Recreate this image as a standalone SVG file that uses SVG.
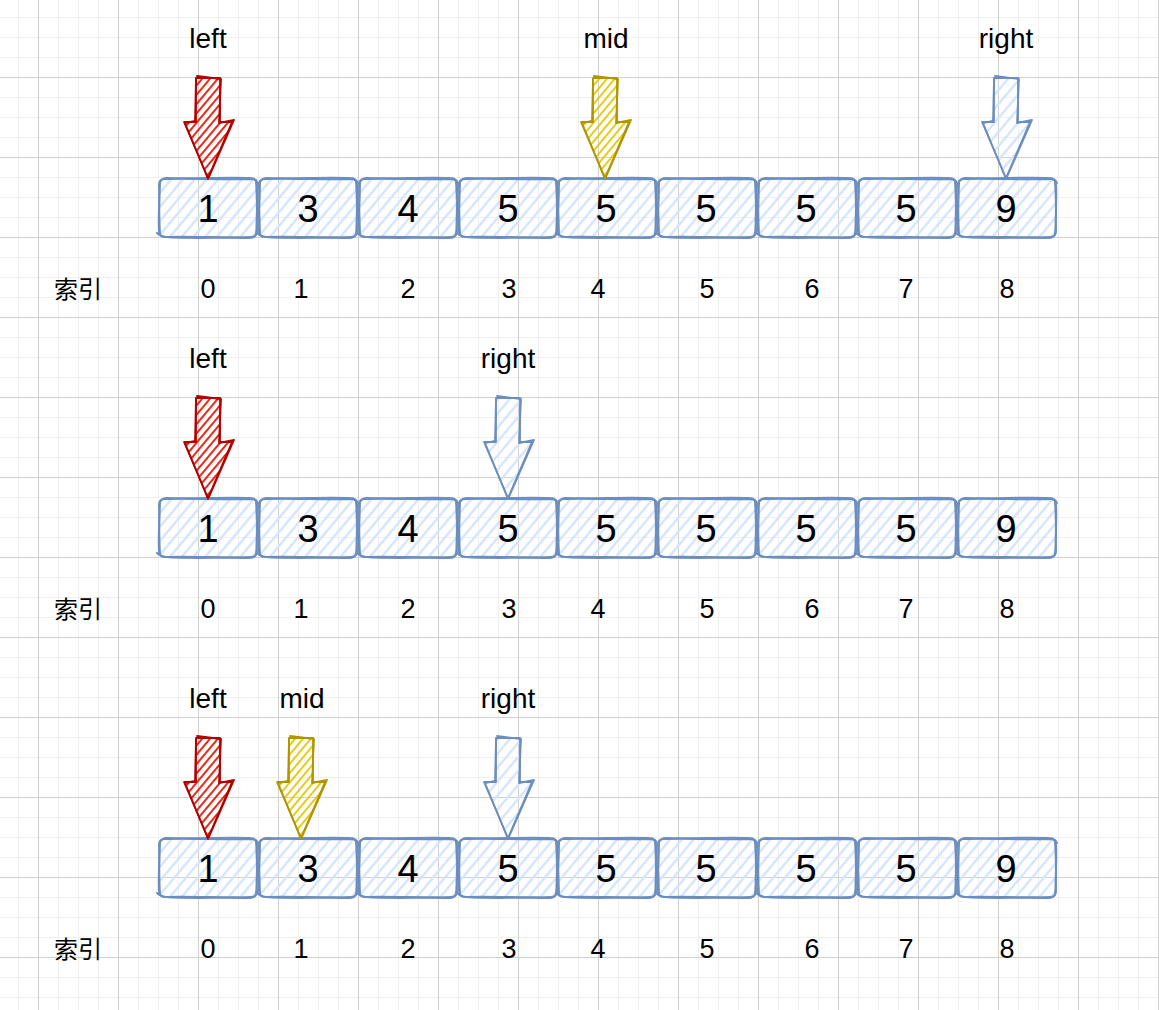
<svg xmlns="http://www.w3.org/2000/svg" xmlns:xlink="http://www.w3.org/1999/xlink" width="1159" height="1010" viewBox="0 0 1159 1010">
<style>
  .lbl { font-family: "Liberation Sans", Arial, Helvetica, sans-serif; font-size: 28px; fill: #000; text-anchor: middle; }
  .idx { font-family: "Liberation Sans", Arial, Helvetica, sans-serif; font-size: 27px; fill: #000; text-anchor: middle; }
  .cjk { font-family: "Liberation Sans", "Noto Sans CJK SC", sans-serif; font-size: 24px; fill: #000; text-anchor: middle; }
  .val { font-family: "Liberation Sans", Arial, Helvetica, sans-serif; font-size: 38px; fill: #000; text-anchor: middle; }
  .bfill { fill: url(#hB); stroke: none; }
  .bstroke { fill: none; stroke: #6c8ebf; stroke-width: 2; stroke-linejoin: round; stroke-linecap: round; }
  .fr { fill: url(#hR); stroke: none; }
  .sr { fill: none; stroke: #b20000; stroke-width: 1.8; stroke-linejoin: round; stroke-linecap: round; }
  .fy { fill: url(#hY); stroke: none; }
  .sy { fill: none; stroke: #b09500; stroke-width: 1.8; stroke-linejoin: round; stroke-linecap: round; }
  .fb { fill: url(#hB); stroke: none; }
  .sb { fill: none; stroke: #6c8ebf; stroke-width: 1.8; stroke-linejoin: round; stroke-linecap: round; }
</style>
<defs>
  <pattern id="gMinor" width="20" height="20" x="18" y="17" patternUnits="userSpaceOnUse">
    <path d="M0,0.5 H20 M0.5,0 V20" fill="none" stroke="#f0f0f0" stroke-width="1"/>
  </pattern>
  <pattern id="gMajor" width="80" height="80" x="38" y="77" patternUnits="userSpaceOnUse">
    <path d="M0,0.5 H80 M0.5,0 V80" fill="none" stroke="#d0d0d0" stroke-width="1"/>
  </pattern>
  <pattern id="hB" width="9" height="12" patternUnits="userSpaceOnUse" patternTransform="rotate(40)">
    <line x1="2" y1="0" x2="2" y2="12" stroke="#d4e4fb" stroke-width="2.4"/>
  </pattern>
  <pattern id="hR" width="6" height="12" patternUnits="userSpaceOnUse" patternTransform="rotate(40)">
    <line x1="2" y1="0" x2="2" y2="12" stroke="#e51400" stroke-width="1.8"/>
  </pattern>
  <pattern id="hY" width="6" height="12" patternUnits="userSpaceOnUse" patternTransform="rotate(40)">
    <line x1="2" y1="0" x2="2" y2="12" stroke="#e3c800" stroke-width="1.8"/>
  </pattern>
  <path id="boxFill" d="M7,2 H93 Q98,2 98,7 V53 Q98,58 93,58 H7 Q2,58 2,53 V7 Q2,2 7,2 Z"/>
  <path id="boxA" d="M7,1 C30,0 70,2 93,1 Q99,1 99,7 C100,20 98,40 99,53 Q99,59 93,59 C70,60 30,58 7,59 Q1,59 1,53 C0,40 2,20 1,7 Q1,1 7,1 Z"/>
  <path id="boxB" d="M2,4 Q4,0 9,0 C35,1 65,-1 92,0 Q98,0 100,5 M98,2 C99,22 100,38 98,56 Q97,60 91,60 C66,59 34,61 8,59 Q2,58 -1,55 M2,57 C1,40 1,22 2,5"/>
  <g id="box">
    <use xlink:href="#boxFill" class="bfill"/>
    <use xlink:href="#boxA" class="bstroke"/>
    <use xlink:href="#boxB" class="bstroke"/>
  </g>
  <path id="arrowFill" d="M-12,0 L12,0 L12,44 L24,44 L0,100 L-24,44 L-12,44 Z"/>
  <path id="arrowA" d="M-12,0 L12,0 L12,44 L24,44 L0,100 L-24,44 L-12,44 Z"/>
  <path id="arrowB" d="M-11,-2 L13,1 L11,45 L26,42 L1,99 M0,101 L-23,45 L-13,43 L-12,1"/>
</defs>

<rect x="0" y="0" width="1159" height="1010" fill="#ffffff"/>
<rect x="0" y="0" width="1159" height="1010" fill="url(#gMinor)"/>
<rect x="0" y="0" width="1159" height="1010" fill="url(#gMajor)"/>

<!-- Row 1 -->
<g id="row1">
  <g id="r1-label-left"><text class="lbl" x="208" y="48">left</text></g>
  <g id="r1-label-mid"><text class="lbl" x="606" y="48">mid</text></g>
  <g id="r1-label-right"><text class="lbl" x="1006" y="48">right</text></g>
  <g id="r1-box0" transform="translate(158,178)"><use xlink:href="#box"/><text class="val" x="50" y="44">1</text></g>
  <g id="r1-box1" transform="translate(258,178)"><use xlink:href="#box"/><text class="val" x="50" y="44">3</text></g>
  <g id="r1-box2" transform="translate(358,178)"><use xlink:href="#box"/><text class="val" x="50" y="44">4</text></g>
  <g id="r1-box3" transform="translate(458,178)"><use xlink:href="#box"/><text class="val" x="50" y="44">5</text></g>
  <g id="r1-box4" transform="translate(557,178)"><use xlink:href="#box"/><text class="val" x="49" y="44">5</text></g>
  <g id="r1-box5" transform="translate(657,178)"><use xlink:href="#box"/><text class="val" x="49" y="44">5</text></g>
  <g id="r1-box6" transform="translate(757,178)"><use xlink:href="#box"/><text class="val" x="49" y="44">5</text></g>
  <g id="r1-box7" transform="translate(857,178)"><use xlink:href="#box"/><text class="val" x="49" y="44">5</text></g>
  <g id="r1-box8" transform="translate(957,178)"><use xlink:href="#box"/><text class="val" x="49" y="44">9</text></g>
  <g id="r1-index">
    <text class="cjk" x="78" y="298">索引</text>
    <text class="idx" x="208" y="298">0</text>
    <text class="idx" x="301" y="298">1</text>
    <text class="idx" x="408" y="298">2</text>
    <text class="idx" x="509" y="298">3</text>
    <text class="idx" x="598" y="298">4</text>
    <text class="idx" x="707" y="298">5</text>
    <text class="idx" x="812" y="298">6</text>
    <text class="idx" x="906" y="298">7</text>
    <text class="idx" x="1007" y="298">8</text>
  </g>
</g>

<!-- Row 2 -->
<g id="row2">
  <g id="r2-label-left"><text class="lbl" x="208" y="368">left</text></g>
  <g id="r2-label-right"><text class="lbl" x="508" y="368">right</text></g>
  <g id="r2-box0" transform="translate(158,498)"><use xlink:href="#box"/><text class="val" x="50" y="44">1</text></g>
  <g id="r2-box1" transform="translate(258,498)"><use xlink:href="#box"/><text class="val" x="50" y="44">3</text></g>
  <g id="r2-box2" transform="translate(358,498)"><use xlink:href="#box"/><text class="val" x="50" y="44">4</text></g>
  <g id="r2-box3" transform="translate(458,498)"><use xlink:href="#box"/><text class="val" x="50" y="44">5</text></g>
  <g id="r2-box4" transform="translate(557,498)"><use xlink:href="#box"/><text class="val" x="49" y="44">5</text></g>
  <g id="r2-box5" transform="translate(657,498)"><use xlink:href="#box"/><text class="val" x="49" y="44">5</text></g>
  <g id="r2-box6" transform="translate(757,498)"><use xlink:href="#box"/><text class="val" x="49" y="44">5</text></g>
  <g id="r2-box7" transform="translate(857,498)"><use xlink:href="#box"/><text class="val" x="49" y="44">5</text></g>
  <g id="r2-box8" transform="translate(957,498)"><use xlink:href="#box"/><text class="val" x="49" y="44">9</text></g>
  <g id="r2-index">
    <text class="cjk" x="78" y="618">索引</text>
    <text class="idx" x="208" y="618">0</text>
    <text class="idx" x="301" y="618">1</text>
    <text class="idx" x="408" y="618">2</text>
    <text class="idx" x="509" y="618">3</text>
    <text class="idx" x="598" y="618">4</text>
    <text class="idx" x="707" y="618">5</text>
    <text class="idx" x="812" y="618">6</text>
    <text class="idx" x="906" y="618">7</text>
    <text class="idx" x="1007" y="618">8</text>
  </g>
</g>

<!-- Row 3 -->
<g id="row3">
  <g id="r3-label-left"><text class="lbl" x="208" y="708">left</text></g>
  <g id="r3-label-mid"><text class="lbl" x="302" y="708">mid</text></g>
  <g id="r3-label-right"><text class="lbl" x="508" y="708">right</text></g>
  <g id="r3-box0" transform="translate(158,838)"><use xlink:href="#box"/><text class="val" x="50" y="44">1</text></g>
  <g id="r3-box1" transform="translate(258,838)"><use xlink:href="#box"/><text class="val" x="50" y="44">3</text></g>
  <g id="r3-box2" transform="translate(358,838)"><use xlink:href="#box"/><text class="val" x="50" y="44">4</text></g>
  <g id="r3-box3" transform="translate(458,838)"><use xlink:href="#box"/><text class="val" x="50" y="44">5</text></g>
  <g id="r3-box4" transform="translate(557,838)"><use xlink:href="#box"/><text class="val" x="49" y="44">5</text></g>
  <g id="r3-box5" transform="translate(657,838)"><use xlink:href="#box"/><text class="val" x="49" y="44">5</text></g>
  <g id="r3-box6" transform="translate(757,838)"><use xlink:href="#box"/><text class="val" x="49" y="44">5</text></g>
  <g id="r3-box7" transform="translate(857,838)"><use xlink:href="#box"/><text class="val" x="49" y="44">5</text></g>
  <g id="r3-box8" transform="translate(957,838)"><use xlink:href="#box"/><text class="val" x="49" y="44">9</text></g>
  <g id="r3-index">
    <text class="cjk" x="78" y="958">索引</text>
    <text class="idx" x="208" y="958">0</text>
    <text class="idx" x="301" y="958">1</text>
    <text class="idx" x="408" y="958">2</text>
    <text class="idx" x="509" y="958">3</text>
    <text class="idx" x="598" y="958">4</text>
    <text class="idx" x="707" y="958">5</text>
    <text class="idx" x="812" y="958">6</text>
    <text class="idx" x="906" y="958">7</text>
    <text class="idx" x="1007" y="958">8</text>
  </g>
</g>

<!-- Pointer arrows -->
<g id="connectors">
  <g id="r1-arrow-left" transform="translate(208,78)"><use xlink:href="#arrowFill" class="fr"/><use xlink:href="#arrowA" class="sr"/><use xlink:href="#arrowB" class="sr"/></g>
  <g id="r1-arrow-mid" transform="translate(605,78)"><use xlink:href="#arrowFill" class="fy"/><use xlink:href="#arrowA" class="sy"/><use xlink:href="#arrowB" class="sy"/></g>
  <g id="r1-arrow-right" transform="translate(1006,78)"><use xlink:href="#arrowFill" class="fb"/><use xlink:href="#arrowA" class="sb"/><use xlink:href="#arrowB" class="sb"/></g>
  <g id="r2-arrow-left" transform="translate(208,398)"><use xlink:href="#arrowFill" class="fr"/><use xlink:href="#arrowA" class="sr"/><use xlink:href="#arrowB" class="sr"/></g>
  <g id="r2-arrow-right" transform="translate(508,398)"><use xlink:href="#arrowFill" class="fb"/><use xlink:href="#arrowA" class="sb"/><use xlink:href="#arrowB" class="sb"/></g>
  <g id="r3-arrow-left" transform="translate(208,738)"><use xlink:href="#arrowFill" class="fr"/><use xlink:href="#arrowA" class="sr"/><use xlink:href="#arrowB" class="sr"/></g>
  <g id="r3-arrow-mid" transform="translate(301,738)"><use xlink:href="#arrowFill" class="fy"/><use xlink:href="#arrowA" class="sy"/><use xlink:href="#arrowB" class="sy"/></g>
  <g id="r3-arrow-right" transform="translate(508,738)"><use xlink:href="#arrowFill" class="fb"/><use xlink:href="#arrowA" class="sb"/><use xlink:href="#arrowB" class="sb"/></g>
</g>
</svg>
